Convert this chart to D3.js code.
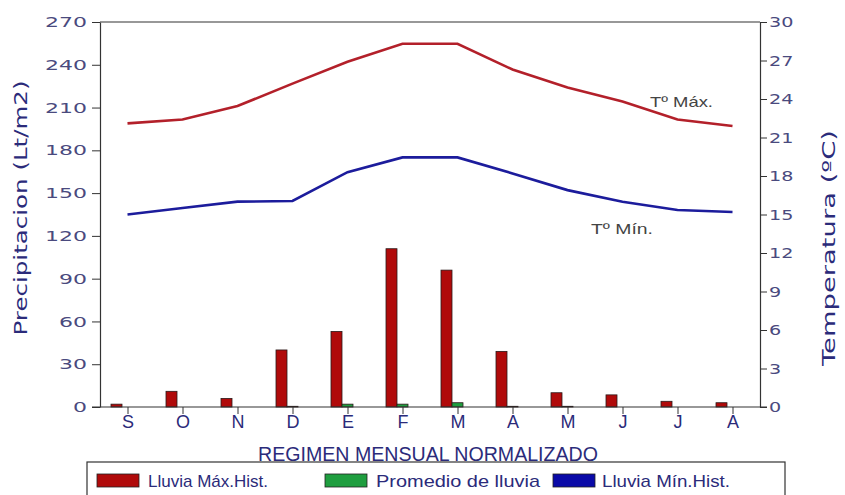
<!DOCTYPE html>
<html><head><meta charset="utf-8">
<script src="https://cdn.jsdelivr.net/npm/d3@7/dist/d3.min.js"></script>
<style>body{margin:0;background:#fff}svg{display:block}</style>
</head><body>
<svg id="c" width="845" height="495"></svg>
<script>
const months = ["S","O","N","D","E","F","M","A","M","J","J","A"];
const lluviaMax = [2, 11, 6, 40, 53, 111, 96, 39, 10, 8.5, 4, 3];
const lluviaProm = [0, 0, 0, 0.5, 2, 2, 3, 0.5, 0.5, 0, 0, 0];
const lluviaMin = [0, 0, 0, 0, 0, 0, 0, 0, 0, 0, 0, 0];
const tMax = [22.1, 22.4, 23.45, 25.2, 26.9, 28.3, 28.3, 26.3, 24.9, 23.8, 22.4, 21.9];
const tMin = [15.0, 15.5, 16.0, 16.05, 18.3, 19.45, 19.45, 18.2, 16.9, 16.0, 15.35, 15.2];
const precTicks = [0,30,60,90,120,150,180,210,240,270];
const tempTicks = [0,3,6,9,12,15,18,21,24,27,30];

const svg = d3.select("#c");
const L = 100, R = 760, T = 22, B = 407;
const idx = months.map((d,i)=>i);
const x = d3.scaleBand().domain(idx).range([L,R]).paddingInner(0.4).paddingOuter(0.2);
const xs = d3.scaleBand().domain(["max","prom","min"]).range([0,x.bandwidth()]);
const yP = d3.scaleLinear().domain([0,270]).range([B,T]);
const yT = d3.scaleLinear().domain([0,30]).range([B,T]);
const navy = "#2b2b7a", labelCol = "#4a4a7e";

svg.append("line").attr("x1",L).attr("x2",R).attr("y1",T).attr("y2",T).attr("stroke","#333").attr("stroke-width",1.2);

const series = [["max",lluviaMax,"#b00a0a"],["prom",lluviaProm,"#1f9e3f"],["min",lluviaMin,"#0a0aa8"]];
series.forEach(([k,vals,col])=>{
  svg.append("g").selectAll("rect").data(vals).join("rect")
    .attr("x",(d,i)=>x(i)+xs(k))
    .attr("width",xs.bandwidth())
    .attr("y",d=>yP(d))
    .attr("height",d=>B-yP(d))
    .attr("fill",col)
    .attr("stroke", k==="min" ? "none" : "#2a1a1a")
    .attr("stroke-width",0.8);
});

const line = d3.line().x((d,i)=>x(i)+x.bandwidth()/2).y(d=>yT(d));
svg.append("path").datum(tMax).attr("d",line).attr("fill","none").attr("stroke","#b3202a").attr("stroke-width",2.6);
svg.append("path").datum(tMin).attr("d",line).attr("fill","none").attr("stroke","#1c1c9c").attr("stroke-width",2.6);

svg.append("text").attr("x",650).attr("y",107).text("Tº Máx.")
  .attr("font-family","Liberation Sans, Arial").attr("font-size",15).attr("fill","#444")
  .attr("textLength",63).attr("lengthAdjust","spacingAndGlyphs");
svg.append("text").attr("x",591).attr("y",234).text("Tº Mín.")
  .attr("font-family","Liberation Sans, Arial").attr("font-size",15).attr("fill","#444")
  .attr("textLength",62).attr("lengthAdjust","spacingAndGlyphs");

const axL = svg.append("g").attr("transform",`translate(${L},0)`)
  .call(d3.axisLeft(yP).tickValues(precTicks).tickSize(8).tickPadding(5).tickSizeOuter(0));
const axR = svg.append("g").attr("transform",`translate(${R},0)`)
  .call(d3.axisRight(yT).tickValues(tempTicks).tickSize(7).tickPadding(2).tickSizeOuter(0));
[[axL,14],[axR,12.2]].forEach(([a,w])=>{
  a.select(".domain").attr("stroke","#333").attr("stroke-width",1.2);
  a.selectAll(".tick line").attr("stroke","#333");
  a.selectAll("text").attr("font-family","DejaVu Sans, Verdana").attr("font-size",14.5)
    .attr("fill",labelCol)
    .attr("textLength",function(){return this.textContent.length*w;})
    .attr("lengthAdjust","spacingAndGlyphs");
});
const axB = svg.append("g").attr("transform",`translate(0,${B})`)
  .call(d3.axisBottom(d3.scalePoint().domain(idx).range([x(0)+x.bandwidth()/2, x(11)+x.bandwidth()/2]))
    .tickFormat(i=>months[i]).tickSize(7).tickPadding(1).tickSizeOuter(0));
axB.select(".domain").remove();
axB.selectAll(".tick line").attr("stroke","#333");
axB.selectAll("text").attr("font-family","Liberation Sans, Arial")
  .attr("font-size",18).attr("fill",navy);
svg.append("line").attr("x1",L-8).attr("x2",R+7).attr("y1",B).attr("y2",B).attr("stroke","#333").attr("stroke-width",1.2);

svg.append("text").attr("transform","translate(27,208) rotate(-90)").attr("text-anchor","middle")
  .text("Precipitacion (Lt/m2)").attr("font-family","DejaVu Sans, Verdana").attr("font-size",18).attr("fill",navy)
  .attr("textLength",255).attr("lengthAdjust","spacingAndGlyphs");
svg.append("text").attr("transform","translate(835,248) rotate(-90)").attr("text-anchor","middle")
  .text("Temperatura (ºC)").attr("font-family","DejaVu Sans, Verdana").attr("font-size",17).attr("fill",navy)
  .attr("textLength",236).attr("lengthAdjust","spacingAndGlyphs");

svg.append("text").attr("x",258).attr("y",461).text("REGIMEN MENSUAL NORMALIZADO")
  .attr("font-family","Liberation Sans, Arial").attr("font-size",20).attr("fill",navy)
  .attr("textLength",340).attr("lengthAdjust","spacingAndGlyphs");

const legend = svg.append("g");
legend.append("rect").attr("x",87).attr("y",462).attr("width",698).attr("height",40)
  .attr("fill","none").attr("stroke","#333").attr("stroke-width",1.2);
const leg = [
  {label:"Lluvia Máx.Hist.", col:"#b00a0a", sx:97, tx:148, tl:120},
  {label:"Promedio de lluvia", col:"#1f9e3f", sx:325, tx:376, tl:164},
  {label:"Lluvia Mín.Hist.", col:"#0a0aa8", sx:553, tx:602, tl:128}
];
leg.forEach(d=>{
  legend.append("rect").attr("x",d.sx).attr("y",474).attr("width",42).attr("height",13)
    .attr("fill",d.col).attr("stroke","#222").attr("stroke-width",0.8);
  legend.append("text").attr("x",d.tx).attr("y",487).text(d.label)
    .attr("font-family","Liberation Sans, Arial").attr("font-size",17).attr("fill",navy)
    .attr("textLength",d.tl).attr("lengthAdjust","spacingAndGlyphs");
});
</script>
</body></html>
